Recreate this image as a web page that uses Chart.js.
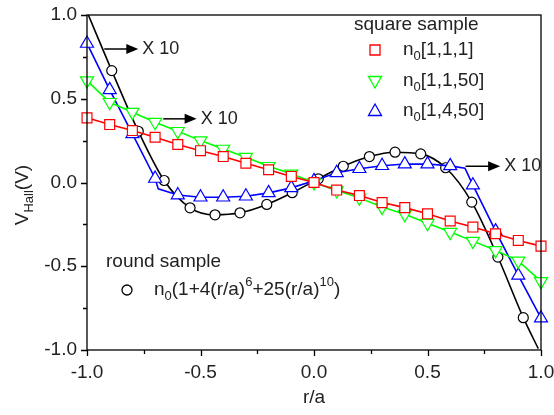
<!DOCTYPE html>
<html>
<head>
<meta charset="utf-8">
<script src="https://cdn.jsdelivr.net/npm/chart.js@4"></script>
<style>
  html, body { margin: 0; padding: 0; background: #fff; }
  canvas { display: block; }
</style>
</head>
<body>
<canvas id="hall" width="554" height="415"></canvas>
<script>
// square sample, markers every 0.1 in r/a
const gridX = [-1.0, -0.9, -0.8, -0.7, -0.6, -0.5, -0.4, -0.3, -0.2, -0.1, 0.0,
               0.1, 0.2, 0.3, 0.4, 0.5, 0.6, 0.7, 0.8, 0.9, 1.0];
const red111 = [0.386, 0.346, 0.31, 0.27, 0.227, 0.19, 0.155, 0.115, 0.076, 0.036, 0.0,
                -0.045, -0.078, -0.12, -0.15, -0.187, -0.23, -0.266, -0.306, -0.346, -0.38];
const green1150 = [0.608, 0.479, 0.42, 0.36, 0.306, 0.25, 0.2, 0.151, 0.097, 0.052, 0.0,
                   -0.048, -0.091, -0.147, -0.19, -0.243, -0.296, -0.35, -0.405, -0.468, -0.59];
const blue1450 = [0.83, 0.553, 0.29, 0.024, -0.075, -0.088, -0.088, -0.082, -0.062, -0.032, 0.01,
                  0.058, 0.082, 0.1, 0.11, 0.11, 0.099, -0.016, -0.29, -0.555, -0.81];
// blue line has a couple of extra knots between markers
const blueLineX = [-1.0, -0.9, -0.8, -0.7, -0.686, -0.6, -0.5, -0.4, -0.3, -0.2, -0.1, 0.0,
                   0.1, 0.2, 0.3, 0.4, 0.5, 0.6, 0.665, 0.7, 0.8, 0.9, 1.0];
const blueLineY = [0.83, 0.553, 0.29, 0.024, -0.038, -0.075, -0.088, -0.088, -0.082, -0.062, -0.032, 0.01,
                   0.058, 0.082, 0.1, 0.11, 0.11, 0.099, 0.085, -0.016, -0.29, -0.555, -0.81];

// round sample
const roundX = [-0.891, -0.774, -0.66, -0.546, -0.436, -0.326, -0.208, -0.096, 0.019,
                0.129, 0.244, 0.357, 0.47, 0.58, 0.695, 0.81, 0.922];
const roundY = [0.668, 0.306, 0.012, -0.151, -0.193, -0.181, -0.131, -0.061, 0.022,
                0.097, 0.155, 0.181, 0.171, 0.088, -0.117, -0.445, -0.807];
const curveX = [-0.994, -0.891, -0.774, -0.66, -0.546, -0.436, -0.326, -0.208, -0.096, 0.019,
                0.129, 0.244, 0.357, 0.47, 0.58, 0.695, 0.81, 0.922, 0.988];
const curveY = [1.0, 0.668, 0.306, 0.012, -0.151, -0.193, -0.181, -0.131, -0.061, 0.022,
                0.097, 0.155, 0.181, 0.171, 0.088, -0.117, -0.445, -0.807, -0.992];

const pts = (xs, ys) => xs.map((x, i) => ({ x: x, y: ys[i] }));

const FONT = '"Liberation Sans", Arial, sans-serif';
const TXT = '#222';

// "x 10" arrows: [x from, x to, y] in data units
const arrows = [[-0.924, -0.774, 0.797], [-0.664, -0.517, 0.38], [0.668, 0.82, 0.097]];

function rich(ctx, parts, x, y, measureOnly) {
  let cx = x;
  parts.forEach(p => {
    const t = p[0], kind = p[1] || 'n';
    ctx.font = (kind === 'n' ? '19px ' : '13px ') + FONT;
    const dy = kind === 'sub' ? 6 : kind === 'sup' ? -8 : 0;
    if (!measureOnly) ctx.fillText(t, cx, y + dy);
    cx += ctx.measureText(t).width;
  });
  return cx - x;
}

function marker(ctx, kind, x, y, color) {
  ctx.save();
  ctx.strokeStyle = color;
  ctx.fillStyle = '#fff';
  ctx.lineWidth = 1.3;
  ctx.beginPath();
  if (kind === 'rect') {
    ctx.rect(x - 5, y - 5, 10, 10);
  } else if (kind === 'up') {
    ctx.moveTo(x, y - 7); ctx.lineTo(x + 6.5, y + 4.5); ctx.lineTo(x - 6.5, y + 4.5); ctx.closePath();
  } else if (kind === 'down') {
    ctx.moveTo(x, y + 7); ctx.lineTo(x + 6.5, y - 4.5); ctx.lineTo(x - 6.5, y - 4.5); ctx.closePath();
  } else {
    ctx.arc(x, y, 5, 0, Math.PI * 2);
  }
  ctx.fill();
  ctx.stroke();
  ctx.restore();
}

const decor = {
  id: 'decor',
  afterDraw(chart) {
    const ctx = chart.ctx, a = chart.chartArea;
    const xs = chart.scales.x, ys = chart.scales.y;
    ctx.save();
    // frame
    ctx.strokeStyle = '#000';
    ctx.lineWidth = 1.3;
    ctx.strokeRect(a.left, a.top, a.right - a.left, a.bottom - a.top);
    // outward ticks, major every 0.5
    ctx.beginPath();
    xs.ticks.forEach(t => {
      const px = Math.round(xs.getPixelForValue(t.value)) + 0.5;
      const len = t.label ? 6 : 4;
      ctx.moveTo(px, a.bottom); ctx.lineTo(px, a.bottom + len);
    });
    ys.ticks.forEach(t => {
      const py = Math.round(ys.getPixelForValue(t.value)) + 0.5;
      const len = t.label ? 6 : 4;
      ctx.moveTo(a.left, py); ctx.lineTo(a.left - len, py);
    });
    ctx.stroke();

    ctx.fillStyle = TXT;
    ctx.textBaseline = 'middle';
    ctx.textAlign = 'left';
    // square sample legend
    ctx.font = '19px ' + FONT;
    ctx.fillText('square sample', 354, 25);
    marker(ctx, 'rect', 375, 50, '#ff0000');
    marker(ctx, 'down', 375, 81, '#00ff00');
    marker(ctx, 'up', 375, 111, '#0000ff');
    ctx.fillStyle = TXT;
    rich(ctx, [['n'], ['0', 'sub'], ['[1,1,1]']], 403, 50);
    rich(ctx, [['n'], ['0', 'sub'], ['[1,1,50]']], 403, 81);
    rich(ctx, [['n'], ['0', 'sub'], ['[1,4,50]']], 403, 111);
    // round sample legend
    ctx.font = '19px ' + FONT;
    ctx.fillText('round sample', 106, 262);
    marker(ctx, 'circle', 127, 290, '#000');
    ctx.fillStyle = TXT;
    rich(ctx, [['n'], ['0', 'sub'], ['(1+4(r/a)'], ['6', 'sup'], ['+25(r/a)'], ['10', 'sup'], [')']], 154, 290);

    // x 10 arrows
    arrows.forEach(ar => {
      const x0 = xs.getPixelForValue(ar[0]), x1 = xs.getPixelForValue(ar[1]);
      const y = ys.getPixelForValue(ar[2]);
      ctx.strokeStyle = '#000';
      ctx.fillStyle = '#000';
      ctx.lineWidth = 1.5;
      ctx.beginPath(); ctx.moveTo(x0, y); ctx.lineTo(x1 - 10, y); ctx.stroke();
      ctx.beginPath(); ctx.moveTo(x1, y); ctx.lineTo(x1 - 12, y - 5); ctx.lineTo(x1 - 12, y + 5); ctx.closePath(); ctx.fill();
      ctx.fillStyle = TXT;
      ctx.font = '18px ' + FONT;
      ctx.fillText('X 10', x1 + 4, y);
    });

    // axis titles
    ctx.textAlign = 'center';
    ctx.font = '19px ' + FONT;
    ctx.fillText('r/a', (a.left + a.right) / 2, 398);
    ctx.save();
    ctx.translate(23, 195);
    ctx.rotate(-Math.PI / 2);
    ctx.textAlign = 'left';
    const ttl = [['V'], ['Hall', 'sub'], ['(V)']];
    const w = rich(ctx, ttl, 0, 0, true);
    rich(ctx, ttl, -w / 2, 0);
    ctx.restore();
    ctx.restore();
  }
};

const tickLabel = v => (Math.abs(v * 2 - Math.round(v * 2)) < 1e-9 ? v.toFixed(1) : '');
const noPad = s => { s.paddingLeft = 0; s.paddingRight = 0; s.paddingTop = 0; s.paddingBottom = 0; };

new Chart(document.getElementById('hall'), {
  type: 'scatter',
  data: {
    datasets: [
      { data: pts(gridX, red111), showLine: true, borderColor: '#ff0000', borderWidth: 1.6,
        pointStyle: 'rect', pointRadius: 7, pointBorderWidth: 1.2, pointBackgroundColor: '#fff', clip: false },
      { data: pts(gridX, green1150), showLine: true, borderColor: '#00ff00', borderWidth: 1.6,
        pointStyle: 'triangle', rotation: 180, pointRadius: 7.5, pointBorderWidth: 1.2, pointBackgroundColor: '#fff', clip: false },
      { data: pts(gridX, blue1450), showLine: false, borderColor: '#0000ff',
        pointStyle: 'triangle', pointRadius: 7.5, pointBorderWidth: 1.2, pointBackgroundColor: '#fff', clip: false },
      { data: pts(blueLineX, blueLineY), showLine: true, borderColor: '#0000ff', borderWidth: 1.6,
        pointRadius: 0, clip: false },
      { data: pts(roundX, roundY), showLine: false, borderColor: '#000',
        pointStyle: 'circle', pointRadius: 5, pointBorderWidth: 1.2, pointBackgroundColor: '#fff', clip: false },
      { data: pts(curveX, curveY), showLine: true, borderColor: '#000', borderWidth: 1.6,
        cubicInterpolationMode: 'monotone', pointRadius: 0, clip: false }
    ]
  },
  options: {
    responsive: false,
    animation: false,
    events: [],
    layout: { padding: { top: 15, right: 13, left: 0, bottom: 0 } },
    plugins: { legend: { display: false }, tooltip: { enabled: false } },
    scales: {
      x: {
        type: 'linear', min: -1, max: 1,
        ticks: { stepSize: 0.25, callback: tickLabel, autoSkip: false, maxRotation: 0,
                 padding: 11, color: TXT, font: { family: FONT, size: 19 } },
        grid: { display: false, drawTicks: false },
        border: { display: false },
        afterFit(s) { s.height = 65; noPad(s); }
      },
      y: {
        type: 'linear', min: -1, max: 1,
        ticks: { stepSize: 0.25, callback: tickLabel, autoSkip: false,
                 padding: 10, color: TXT, font: { family: FONT, size: 19 } },
        grid: { display: false, drawTicks: false },
        border: { display: false },
        afterFit(s) { s.width = 87; noPad(s); }
      }
    }
  },
  plugins: [decor]
});
</script>
</body>
</html>
